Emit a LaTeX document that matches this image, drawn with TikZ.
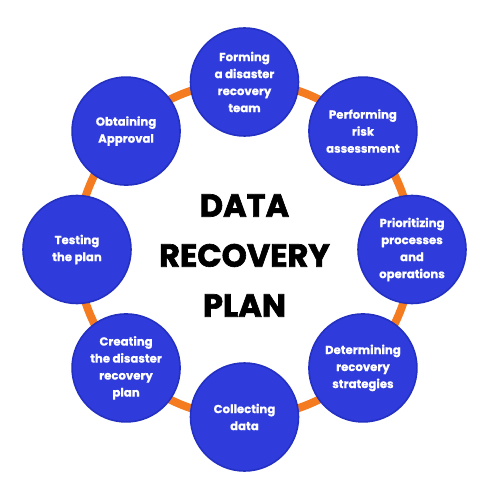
\documentclass[tikz,border=0pt]{standalone}
\usepackage{fontspec}
\setmainfont{Poppins}
\usetikzlibrary{calc}
\definecolor{stepblue}{HTML}{2F3CDB}
\definecolor{stepedge}{HTML}{2430C2}
\definecolor{ringorange}{HTML}{F47B20}
\begin{document}
\begin{tikzpicture}[x=1pt,y=1pt,
  stepcircle/.style={circle,minimum size=108pt,inner sep=0pt,fill=stepblue,draw=stepedge,line width=1.6pt,
    text=white,align=center,font=\fontsize{11.7}{17}\selectfont\bfseries\addfontfeature{FakeBold=0.6}},
  titletext/.style={align=center,font=\fontsize{32}{50}\selectfont\bfseries\addfontfeature{FakeBold=2},text=black}]
\useasboundingbox[fill=white] (0,0) rectangle (484,480);
\coordinate (o) at (244.5,230.5);
\draw[ringorange,line width=8pt] (o) circle[radius=167.5pt];
\node[stepcircle] (c1) at ($(o)+(90:167.5)$) {Forming\\a disaster\\recovery\\team};
\node[stepcircle] (c2) at ($(o)+(45:167.5)$) {Performing\\risk\\assessment};
\node[stepcircle] (c3) at ($(o)+(0:167.5)$) {Prioritizing\\processes\\and\\operations};
\node[stepcircle] (c4) at ($(o)+(-45:167.5)$) {Determining\\recovery\\strategies};
\node[stepcircle] (c5) at ($(o)+(-90:167.5)$) {Collecting\\data};
\node[stepcircle] (c6) at ($(o)+(-135:167.5)$) {Creating\\the disaster\\recovery\\plan};
\node[stepcircle] (c7) at ($(o)+(180:167.5)$) {Testing\\the plan};
\node[stepcircle] (c8) at ($(o)+(135:167.5)$) {Obtaining\\Approval};
\node[titletext] (title) at ($(o)+(0,-6)$) {DATA\\RECOVERY\\PLAN};
\end{tikzpicture}
\end{document}
